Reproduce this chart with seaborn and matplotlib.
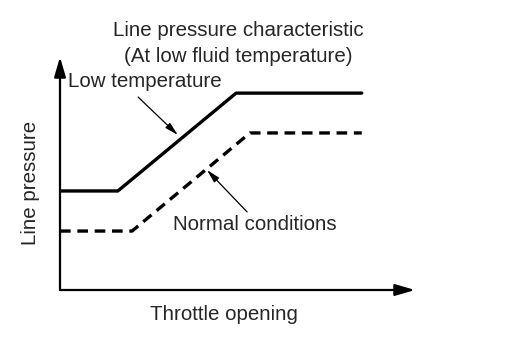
import matplotlib
matplotlib.use("Agg")
import matplotlib.pyplot as plt
import seaborn as sns
import pandas as pd

# Throttle opening (%) breakpoints and line pressure (relative units)
throttle_low_temp = [0, 16.3, 49.6, 85]
pressure_low_temp = [42.5, 42.5, 84.5, 84.5]
throttle_normal = [0, 20.3, 53.5, 85]
pressure_normal = [25.3, 25.3, 67.4, 67.4]

title_lines = ["Line pressure characteristic", "(At low fluid temperature)"]
label_low = "Low temperature"
label_normal = "Normal conditions"
xlabel = "Throttle opening"
ylabel = "Line pressure"

sns.set_style("white")
plt.rcParams["font.family"] = ["Liberation Sans", "DejaVu Sans"]
FS = 14.8

df_low = pd.DataFrame({"throttle": throttle_low_temp, "pressure": pressure_low_temp})
df_norm = pd.DataFrame({"throttle": throttle_normal, "pressure": pressure_normal})

fig = plt.figure(figsize=(5.12, 3.38), dpi=100)
ax = fig.add_axes([60 / 512, 48 / 338, 355 / 512, 233 / 338])
ax.set_xlim(0, 100)
ax.set_ylim(0, 100)
for s in ax.spines.values():
    s.set_visible(False)
ax.set_xticks([])
ax.set_yticks([])

sns.lineplot(data=df_low, x="throttle", y="pressure", ax=ax, color="black",
             linewidth=2.4, estimator=None, sort=False)
sns.lineplot(data=df_norm, x="throttle", y="pressure", ax=ax, color="black",
             linewidth=2.4, linestyle=(0, (3.2, 2.0)), estimator=None, sort=False)
ax.set_xlabel("")
ax.set_ylabel("")

# axes drawn as arrows
axis_arrow = dict(arrowstyle="-|>,head_length=1.2,head_width=0.35", color="black",
                  lw=1.6, shrinkA=0, shrinkB=0)
ax.annotate("", xy=(100, 0), xytext=(0, 0), arrowprops=axis_arrow, annotation_clip=False)
ax.annotate("", xy=(0, 100), xytext=(0, 0), arrowprops=axis_arrow, annotation_clip=False)

# curve labels with pointer arrows
pointer = dict(arrowstyle="-|>,head_length=0.8,head_width=0.2", color="black",
               lw=0.9, shrinkA=0, shrinkB=0)
ax.text(2.3, 89.3, label_low, fontsize=FS, va="center", ha="left")
ax.annotate("", xy=(33.2, 66.5), xytext=(22, 82.8), arrowprops=pointer)
ax.text(31.8, 28.3, label_normal, fontsize=FS, va="center", ha="left")
ax.annotate("", xy=(41.4, 51.5), xytext=(52.7, 33.5), arrowprops=pointer)

fig.text(238 / 512, 1 - 30 / 338, title_lines[0], fontsize=FS, ha="center", va="center")
fig.text(238 / 512, 1 - 57 / 338, title_lines[1], fontsize=FS, ha="center", va="center")
fig.text(224 / 512, 1 - 314 / 338, xlabel, fontsize=FS, ha="center", va="center")
fig.text(30 / 512, 1 - 183 / 338, ylabel, fontsize=FS, ha="center", va="center", rotation=90)

fig.savefig("out.png", dpi=100)
